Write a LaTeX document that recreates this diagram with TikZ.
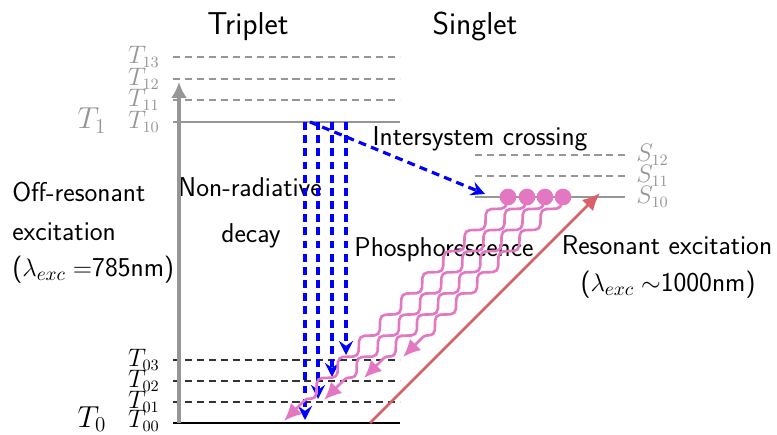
\documentclass[tikz,border=0pt]{standalone}
\usepackage{amsmath, amssymb}
\usepackage{tikz}
\usetikzlibrary{arrows.meta}
\usetikzlibrary{decorations.pathmorphing}

\definecolor{lvlgray}{RGB}{150,150,150}
\definecolor{phpink}{RGB}{227,119,194}
\definecolor{exred}{RGB}{217,95,105}

\tikzset{
  lvl/.style={line width=1.2pt},
  sublvl/.style={line width=0.7pt, dash pattern=on 4pt off 2.8pt},
  txt/.style={font=\sffamily\fontsize{15.5}{21}\selectfont, inner sep=0pt},
  head/.style={font=\sffamily\fontsize{18}{21}\selectfont, inner sep=0pt, anchor=base},
  tlab/.style={anchor=east, inner sep=0pt, font=\fontsize{13.5}{15}\selectfont},
  slab/.style={anchor=west, inner sep=0pt, font=\fontsize{13.5}{15}\selectfont, lvlgray},
  biglab/.style={anchor=base, inner sep=0pt, font=\fontsize{17.5}{19}\selectfont},
  decayarrow/.style={blue, line width=1.8pt, dash pattern=on 4.5pt off 3pt,
    -{Stealth[length=8pt, width=8pt, inset=2.8pt]}},
  phosarrow/.style={phpink, line width=1.5pt, decorate,
    decoration={snake, amplitude=2.8pt, segment length=17pt, post length=9pt},
    -{Latex[length=10pt, width=9pt]}},
  pdot/.style={circle, fill=phpink, inner sep=0pt, minimum size=9.5pt},
}

\begin{document}
\begin{tikzpicture}[x=0.02cm, y=-0.02cm]
        \useasboundingbox (0,0) rectangle (777,435);
        % triplet levels
        \draw[lvlgray, sublvl] (173,57) -- (400,57);
        \draw[lvlgray, sublvl] (173,79) -- (400,79);
        \draw[lvlgray, sublvl] (173,100) -- (400,100);
        \draw[lvlgray, lvl] (173,122) -- (400,122);
        \draw[black!80, sublvl] (173,360) -- (400,360);
        \draw[black!80, sublvl] (173,381) -- (400,381);
        \draw[black!80, sublvl] (173,402) -- (400,402);
        \draw[lvl] (173,423) -- (400,423);
        % singlet levels
        \draw[lvlgray, sublvl] (475,155) -- (625,155);
        \draw[lvlgray, sublvl] (475,176) -- (625,176);
        \draw[lvlgray, lvl] (475,197) -- (625,197);
        % level labels
        \node[tlab, lvlgray] (t13) at (160,57) {$T_{13}$};
        \node[tlab, lvlgray] (t12) at (160,79) {$T_{12}$};
        \node[tlab, lvlgray] (t11) at (160,100) {$T_{11}$};
        \node[tlab, lvlgray] (t10) at (160,122) {$T_{10}$};
        \node[tlab] (t03) at (160,360) {$T_{03}$};
        \node[tlab] (t02) at (160,381) {$T_{02}$};
        \node[tlab] (t01) at (160,402) {$T_{01}$};
        \node[tlab] (t00) at (160,421) {$T_{00}$};
        \node[slab] (s12) at (636,155) {$S_{12}$};
        \node[slab] (s11) at (636,176) {$S_{11}$};
        \node[slab] (s10) at (636,197) {$S_{10}$};
        \node[biglab, lvlgray] (tone) at (92,129) {$T_1$};
        \node[biglab] (tzero) at (92,427) {$T_0$};
        % texts
        \node[head] (trip) at (248,35) {Triplet};
        \node[head] (sing) at (475,35) {Singlet};
        \node[txt, anchor=base] (isc) at (480,146) {Intersystem crossing};
        \node[txt, anchor=base] (nrad) at (250,197) {Non-radiative};
        \node[txt, anchor=base] (decay) at (251,243) {decay};
        \node[txt, anchor=base] (phos) at (444,257) {Phosphorescence};
        \node[txt, anchor=base west] (off1) at (12,202) {Off-resonant};
        \node[txt, anchor=base west] (off2) at (12,241) {excitation};
        \node[txt, anchor=base west] (off3) at (12,277) {($\lambda_{exc}=$785nm)};
        \node[txt, anchor=base] (res1) at (667,255) {Resonant excitation};
        \node[txt, anchor=base] (res2) at (668,292) {($\lambda_{exc}\sim$1000nm)};
        % off-resonant pump
        \coordinate (pump0) at (179,423);
        \coordinate (pump1) at (179,82);
        \draw[lvlgray, line width=1.8pt, -{Latex[length=9pt, width=9pt]}] (pump0) -- (pump1);
        % non-radiative decay
        \coordinate (d0s) at (305,122);
        \coordinate (d0e) at (305,420);
        \coordinate (d1s) at (318,122);
        \coordinate (d1e) at (318,399);
        \coordinate (d2s) at (332,122);
        \coordinate (d2e) at (332,377);
        \coordinate (d3s) at (346,122);
        \coordinate (d3e) at (346,355);
        \draw[decayarrow] (d0s) -- (d0e);
        \draw[decayarrow] (d1s) -- (d1e);
        \draw[decayarrow] (d2s) -- (d2e);
        \draw[decayarrow] (d3s) -- (d3e);
        % intersystem crossing
        \coordinate (iscs) at (310,122);
        \coordinate (isce) at (485,194);
        \draw[decayarrow] (iscs) -- (isce);
        % phosphorescence
        \coordinate (p0) at (508,197);
        \coordinate (p1) at (527,197);
        \coordinate (p2) at (545,197);
        \coordinate (p3) at (563,197);
        \coordinate (q0) at (284,421);
        \coordinate (q1) at (324,400);
        \coordinate (q2) at (364,378);
        \coordinate (q3) at (403,357);
        \draw[phosarrow] (p0) -- (q0);
        \draw[phosarrow] (p1) -- (q1);
        \draw[phosarrow] (p2) -- (q2);
        \draw[phosarrow] (p3) -- (q3);
        \node[pdot] (dot0) at (p0) {};
        \node[pdot] (dot1) at (p1) {};
        \node[pdot] (dot2) at (p2) {};
        \node[pdot] (dot3) at (p3) {};
        % resonant excitation
        \coordinate (r0) at (370,423);
        \coordinate (r1) at (600,193);
        \draw[exred, line width=1.6pt, -{Latex[length=10pt, width=9pt]}] (r0) -- (r1);
\end{tikzpicture}
\end{document}
